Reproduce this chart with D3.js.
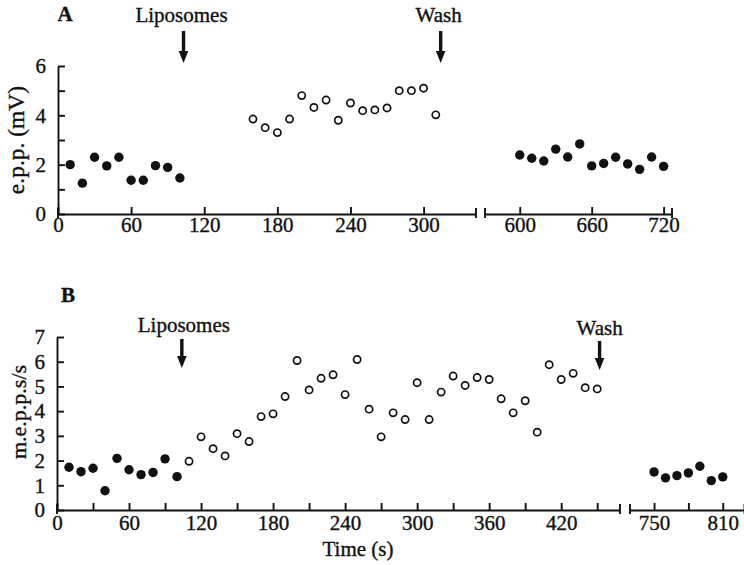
<!DOCTYPE html>
<html lang="en">
<head>
  <meta charset="UTF-8">
  <title>e.p.p. and m.e.p.p. frequency vs time</title>
  <style>
  body { margin: 0; background: #fff; }
  text { font-family: "Liberation Serif", "Times New Roman", serif; fill: #111; stroke: #111; stroke-width: 0.35px; }
  .axis path, .axis line { stroke: #111; stroke-width: 1.9px; }
  .axis text { font-size: 21px; font-family: "Liberation Serif", serif; fill: #111; stroke: #111; stroke-width: 0.35px; }
  .filled { fill: #111; }
  .open { fill: #fff; stroke: #111; stroke-width: 1.7px; }
  </style>
</head>
<body>
  <script src="https://d3js.org/d3.v7.min.js"></script>
  <script type="text/javascript">

    var width = 744;
    var height = 565;

    // panel A: e.p.p. amplitude (mV)
    var aCtrlTime = [10, 20, 30, 40, 50, 60, 70, 80, 90, 100];
    var aCtrlVal  = [2.0, 1.25, 2.3, 1.95, 2.3, 1.37, 1.37, 1.96, 1.89, 1.46];
    var aLipoTime = [160, 170, 180, 190, 200, 210, 220, 230, 240, 250, 260, 270, 280, 290, 300, 310];
    var aLipoVal  = [3.85, 3.5, 3.3, 3.85, 4.8, 4.32, 4.62, 3.8, 4.5, 4.19, 4.22, 4.3, 5.0, 5.0, 5.1, 4.02];
    var aWashTime = [600, 610, 620, 630, 640, 650, 660, 670, 680, 690, 700, 710, 720];
    var aWashVal  = [2.39, 2.26, 2.15, 2.63, 2.31, 2.84, 1.95, 2.05, 2.3, 2.03, 1.81, 2.31, 1.93];

    // panel B: m.e.p.p. frequency (per s)
    var bCtrlTime = [10, 20, 30, 40, 50, 60, 70, 80, 90, 100];
    var bCtrlVal  = [1.73, 1.55, 1.69, 0.78, 2.09, 1.63, 1.43, 1.52, 2.07, 1.35];
    var bLipoTime = [110, 120, 130, 140, 150, 160, 170, 180, 190, 200, 210, 220, 230, 240, 250, 260, 270, 280, 290, 300,
                     310, 320, 330, 340, 350, 360, 370, 380, 390, 400, 410, 420, 430, 440, 450];
    var bLipoVal  = [1.97, 2.96, 2.48, 2.19, 3.09, 2.77, 3.78, 3.89, 4.59, 6.05, 4.86, 5.33, 5.47, 4.67, 6.09, 4.08, 2.96, 3.93, 3.66, 5.15,
                     3.66, 4.77, 5.42, 5.04, 5.36, 5.28, 4.5, 3.93, 4.42, 3.15, 5.88, 5.28, 5.53, 4.95, 4.9];
    var bWashTime = [750, 760, 770, 780, 790, 800, 810];
    var bWashVal  = [1.54, 1.3, 1.39, 1.5, 1.77, 1.19, 1.34];

    // events
    var aLiposomesAt = 103, aWashAt = 314;
    var bLiposomesAt = 104, bWashAt = 452;

    var svg = d3.select("body")
        .append("svg")
          .attr("width", width)
          .attr("height", height);

    function zip(t, v) { return t.map(function(d, i){ return {t: d, v: v[i]}; }); }

    // scales (broken x axis: two segments per panel)
    var xA1 = d3.scaleLinear().domain([0, 343]).range([58, 476]);
    var xA2 = d3.scaleLinear().domain([571, 727]).range([485, 672]);
    var yA  = d3.scaleLinear().domain([0, 6]).range([214, 66]);

    var xB1 = d3.scaleLinear().domain([0, 469]).range([57, 620]);
    var xB2 = d3.scaleLinear().domain([729, 829]).range([630, 744.5]);
    var yB  = d3.scaleLinear().domain([0, 7]).range([510, 337]);

    function xAxisSeg(x, y0, ticks, labels, pad) {
      var g = svg.append("g")
          .attr("class", "axis")
          .attr("transform", "translate(0," + y0 + ")")
          .call(d3.axisBottom(x).tickValues(ticks).tickSize(-7).tickSizeOuter(0).tickPadding(pad)
                .tickFormat(function(d){ return labels.indexOf(d) >= 0 ? d : ""; }));
      // break bars at segment ends
      var r = x.range();
      g.append("line").attr("x1", r[0]).attr("x2", r[0]).attr("y1", -6).attr("y2", 4);
      g.append("line").attr("x1", r[1]).attr("x2", r[1]).attr("y1", -6).attr("y2", 4);
      return g;
    }

    function yAxis(y, x0, ticks, labels) {
      svg.append("g")
          .attr("class", "axis")
          .attr("transform", "translate(" + x0 + ",0)")
          .call(d3.axisLeft(y).tickValues(ticks).tickSize(-7).tickSizeOuter(0).tickPadding(12)
                .tickFormat(function(d){ return labels.indexOf(d) >= 0 ? d : ""; }));
    }

    function dots(data, x, y, cls, r) {
      svg.append("g")
        .selectAll("circle")
        .data(data)
        .enter()
        .append("circle")
          .attr("class", cls)
          .attr("cx", function(d){ return x(d.t); })
          .attr("cy", function(d){ return y(d.v); })
          .attr("r", r);
    }

    function arrow(x, yTop, yBot) {
      svg.append("line")
        .attr("x1", x).attr("x2", x).attr("y1", yTop).attr("y2", yBot - 8)
        .attr("stroke", "#111").attr("stroke-width", 3.4);
      svg.append("path")
        .attr("d", "M" + (x - 4.8) + "," + (yBot - 12) + "L" + (x + 4.8) + "," + (yBot - 12) + "L" + x + "," + yBot + "Z")
        .attr("fill", "#111");
    }

    function label(txt, x, y, size, anchor) {
      return svg.append("text")
        .attr("x", x).attr("y", y)
        .attr("font-size", size)
        .attr("text-anchor", anchor || "middle")
        .text(txt);
    }

    // ---- Panel A ----
    yAxis(yA, 58, [0, 1, 2, 3, 4, 5, 6], [0, 2, 4, 6]);
    xAxisSeg(xA1, 214, [0, 60, 120, 180, 240, 300], [0, 60, 120, 180, 240, 300], 3);
    xAxisSeg(xA2, 214, [600, 660, 720], [600, 660, 720], 3);

    dots(zip(aCtrlTime, aCtrlVal), xA1, yA, "filled", 4.7);
    dots(zip(aLipoTime, aLipoVal), xA1, yA, "open", 3.6);
    dots(zip(aWashTime, aWashVal), xA2, yA, "filled", 4.7);

    label("A", 65, 21, 21).attr("font-weight", "bold");
    label("Liposomes", xA1(aLiposomesAt) - 2, 22, 21);
    arrow(xA1(aLiposomesAt), 31, 63);
    label("Wash", xA1(aWashAt) - 2, 22, 21);
    arrow(xA1(aWashAt), 31, 63);

    svg.append("text")
      .attr("transform", "translate(24,140) rotate(-90)")
      .attr("font-size", 23.5)
      .attr("text-anchor", "middle")
      .text("e.p.p. (mV)");

    // ---- Panel B ----
    yAxis(yB, 57, [0, 1, 2, 3, 4, 5, 6, 7], [0, 1, 2, 3, 4, 5, 6, 7]);
    xAxisSeg(xB1, 510, d3.range(0, 469, 30), [0, 60, 120, 180, 240, 300, 360, 420], 5);
    xAxisSeg(xB2, 510, [750, 780, 810], [750, 810], 5);

    dots(zip(bCtrlTime, bCtrlVal), xB1, yB, "filled", 4.7);
    dots(zip(bLipoTime, bLipoVal), xB1, yB, "open", 3.6);
    dots(zip(bWashTime, bWashVal), xB2, yB, "filled", 4.7);

    label("B", 68, 302, 21).attr("font-weight", "bold");
    label("Liposomes", xB1(bLiposomesAt) + 2, 332, 21);
    arrow(xB1(bLiposomesAt), 339, 368);
    label("Wash", xB1(bWashAt), 335, 21);
    arrow(xB1(bWashAt), 341, 370);

    svg.append("text")
      .attr("transform", "translate(26,412) rotate(-90)")
      .attr("font-size", 22)
      .attr("text-anchor", "middle")
      .text("m.e.p.p.s/s");

    label("Time (s)", 358, 556, 21);

  </script>
</body>
</html>
